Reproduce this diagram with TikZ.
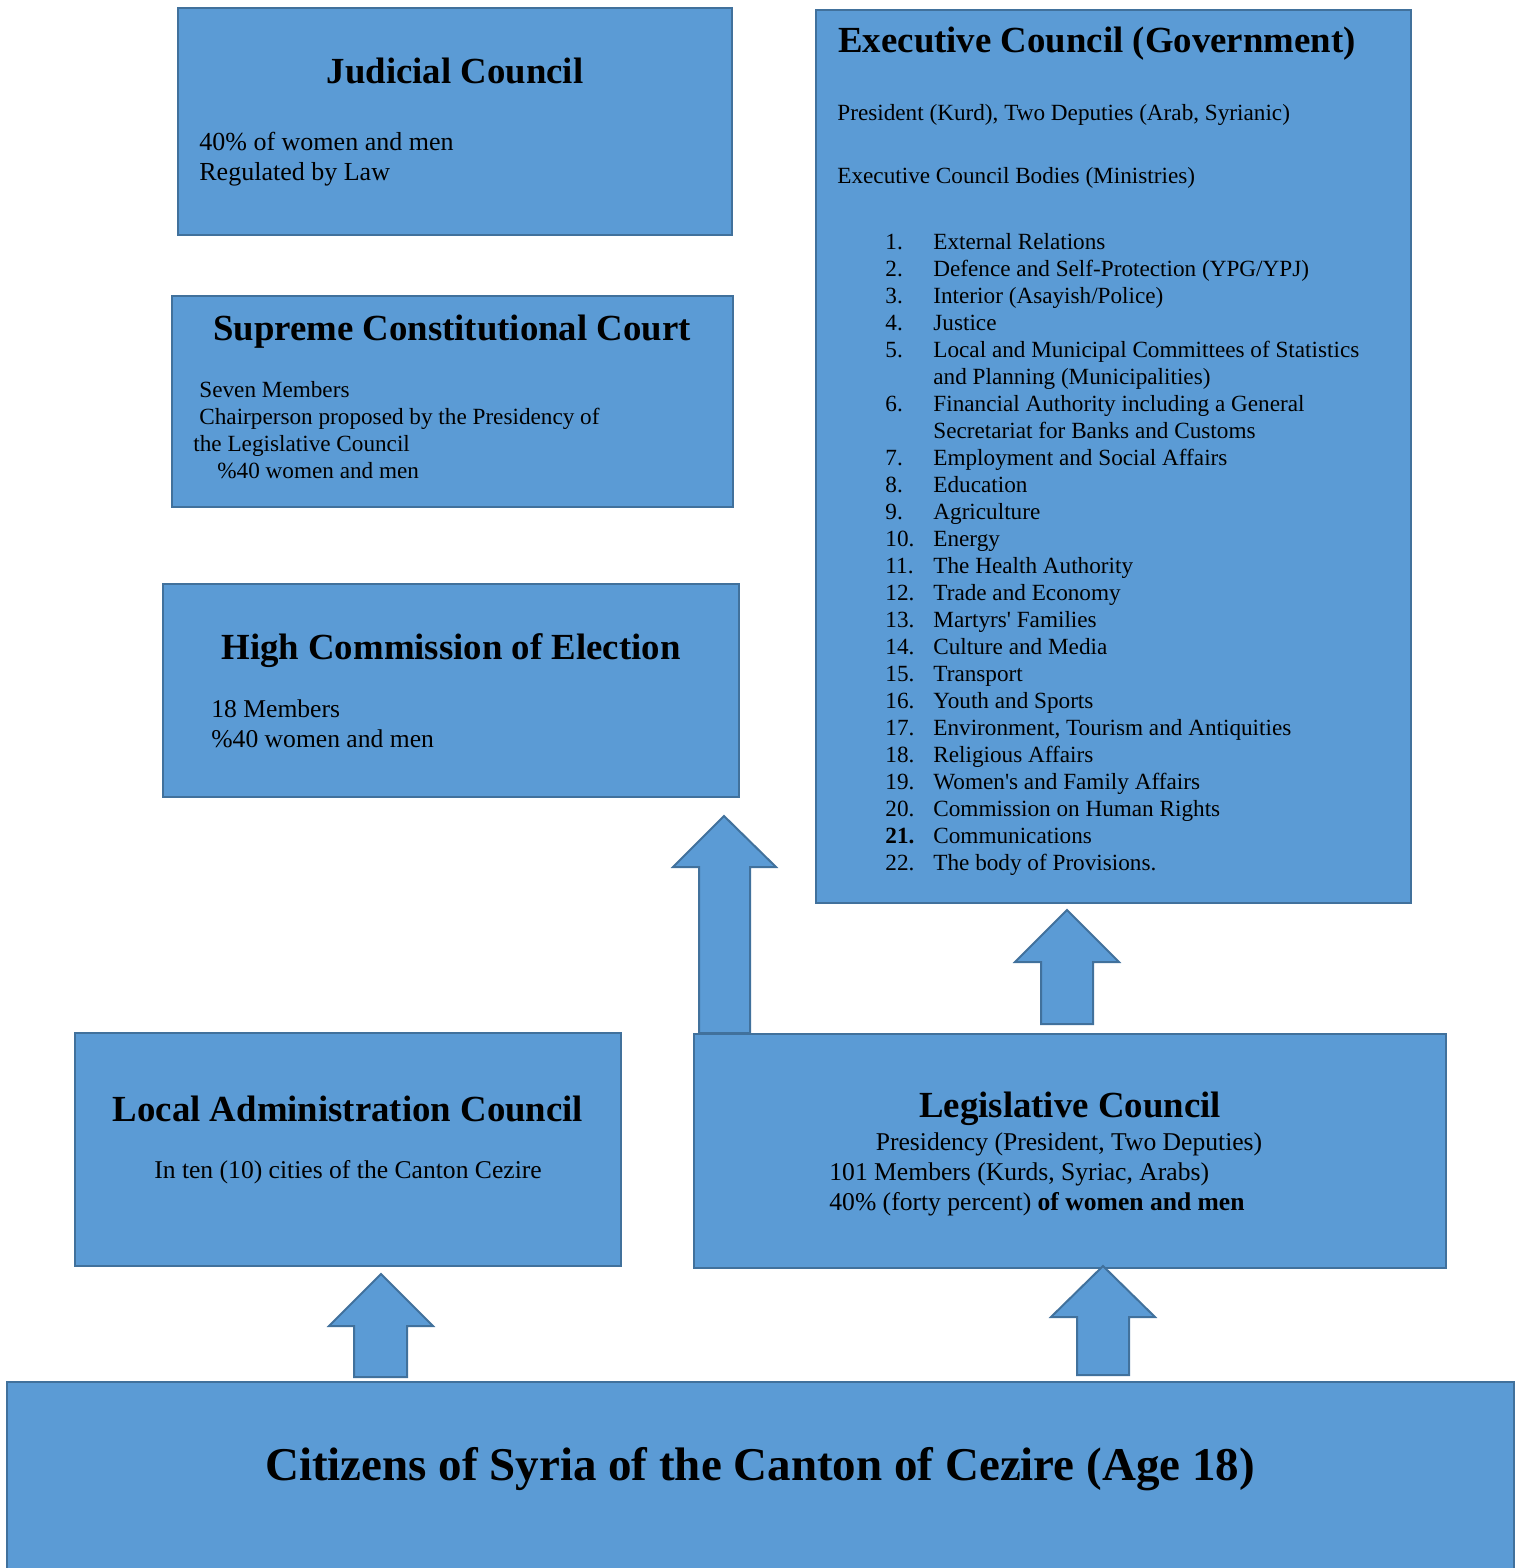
\documentclass[tikz,border=0pt]{standalone}
\usepackage{fontspec}
\setmainfont{Liberation Serif}
\definecolor{boxfill}{HTML}{5B9BD5}
\definecolor{boxline}{HTML}{41719C}
\begin{document}
\begin{tikzpicture}[x=0.5pt,y=-0.5pt,
  box/.style={draw=boxline,fill=boxfill,line width=1pt},
  blockarrow/.style={draw=boxline,fill=boxfill,line width=1pt,line join=miter},
  ttl/.style={font=\fontsize{18.4}{22}\selectfont\bfseries,inner sep=0,anchor=base},
  ttlbig/.style={font=\fontsize{23.5}{28}\selectfont\bfseries,inner sep=0,anchor=base},
  txt/.style={font=\fontsize{11.6}{14}\selectfont,inner sep=0,anchor=base west},
  jtxt/.style={font=\fontsize{13}{15}\selectfont,inner sep=0,anchor=base west},
  ltxt/.style={font=\fontsize{12.8}{15}\selectfont,inner sep=0,anchor=base west},
  ltxtc/.style={font=\fontsize{12.8}{15}\selectfont,inner sep=0,anchor=base}]
\useasboundingbox (0,0) rectangle (1521,1568);
% boxes
\draw[box] (178,8) rectangle (732,235);
\draw[box] (172,296) rectangle (733,507);
\draw[box] (163,584) rectangle (739,797);
\draw[box] (816,10) rectangle (1411,903);
\draw[box] (75,1033) rectangle (621,1266);
\draw[box] (694,1034) rectangle (1446,1268);
\draw[box] (7,1382) rectangle (1514,1600);
% block arrows
\draw[blockarrow] (699,1033) -- (699,867) -- (673,867) -- (724,816) -- (776,867) -- (750,867) -- (750,1033) -- cycle;
\draw[blockarrow] (1041,1024) -- (1041,962) -- (1015,962) -- (1067,910) -- (1119,962) -- (1093,962) -- (1093,1024) -- cycle;
\draw[blockarrow] (354,1377) -- (354,1326) -- (329,1326) -- (381,1274) -- (433,1326) -- (407,1326) -- (407,1377) -- cycle;
\draw[blockarrow] (1077,1375) -- (1077,1317) -- (1051,1317) -- (1103,1266) -- (1155,1317) -- (1129,1317) -- (1129,1375) -- cycle;
% Judicial Council
\node[ttl] (jct) at (455,84) {Judicial Council};
\node[jtxt] (jc1) at (199,150) {40\% of women and men};
\node[jtxt] (jc2) at (199,180) {Regulated by Law};
% Supreme Constitutional Court
\node[ttl] (sct) at (452,340) {Supreme Constitutional Court};
\node[txt] (sc1) at (199,397) {Seven Members};
\node[txt] (sc2) at (199,424) {Chairperson proposed by the Presidency of};
\node[txt] (sc3) at (193,451) {the Legislative Council};
\node[txt] (sc4) at (217,478) {\%40 women and men};
% High Commission of Election
\node[ttl] (hct) at (451,659) {High Commission of Election};
\node[ltxt] (hc1) at (211,717) {18 Members};
\node[ltxt] (hc2) at (211,747) {\%40 women and men};
% Executive Council
\node[ttl,anchor=base west] (ext) at (838,53) {Executive Council (Government)};
\node[txt] (ex1) at (837,120) {President (Kurd), Two Deputies (Arab, Syrianic)};
\node[txt] (ex2) at (837,184) {Executive Council Bodies (Ministries)};
\foreach \n/\t [count=\i from 0] in {
  1./External Relations,
  2./Defence and Self-Protection (YPG{/}YPJ),
  3./Interior (Asayish{/}Police),
  4./Justice,
  5./Local and Municipal Committees of Statistics,
  /and Planning (Municipalities),
  6./Financial Authority including a General,
  /Secretariat for Banks and Customs,
  7./Employment and Social Affairs,
  8./Education,
  9./Agriculture,
  10./Energy,
  11./The Health Authority,
  12./Trade and Economy,
  13./Martyrs\textquotesingle{} Families,
  14./Culture and Media,
  15./Transport,
  16./Youth and Sports,
  17./{Environment, Tourism and Antiquities},
  18./Religious Affairs,
  19./Women\textquotesingle{}s and Family Affairs,
  20./Commission on Human Rights,
  {\textbf{21.}}/Communications,
  22./The body of Provisions.}{
  \node[txt] (exn\i) at (885,249+27*\i) {\n};
  \node[txt] (exi\i) at (933,249+27*\i) {\t};
}
% Local Administration Council
\node[ttl] (lat) at (348,1121) {Local Administration Council};
\node[ltxtc] (la1) at (348,1178) {In ten (10) cities of the Canton Cezire};
% Legislative Council
\node[ttl] (lct) at (1070,1117) {Legislative Council};
\node[ltxtc] (lc1) at (1069,1150) {Presidency (President, Two Deputies)};
\node[ltxt] (lc2) at (829,1180) {101 Members (Kurds, Syriac, Arabs)};
\node[ltxt] (lc3) at (829,1210) {40\% (forty percent) \textbf{of women and men}};
% Citizens
\node[ttlbig] (cit) at (760,1480) {Citizens of Syria of the Canton of Cezire (Age 18)};
\end{tikzpicture}
\end{document}
